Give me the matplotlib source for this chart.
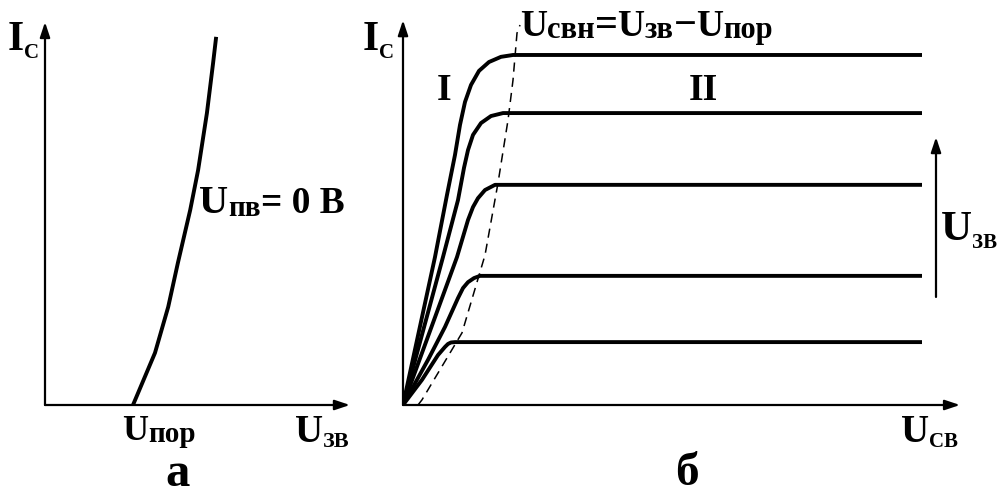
import matplotlib
matplotlib.use("Agg")
import matplotlib.pyplot as plt

# ---- data (schematic units: x in V, y in mA) ----
# panel a: transfer characteristic Ic(Uзв)
ugs_a = [2.0, 2.5, 2.8, 3.02, 3.30, 3.48, 3.68, 3.82, 3.89]
ic_a = [0.0, 1.41, 2.65, 3.84, 5.27, 6.35, 7.89, 9.24, 9.95]

# panel б: output characteristics Ic(Uсв) for five gate voltages
uds_1 = [0, 0.64, 0.88, 1.04, 1.14, 1.24, 1.36, 1.52, 1.72, 1.96, 2.20, 10.38]
ic_1 = [0, 4.0, 5.68, 6.76, 7.57, 8.19, 8.65, 9.03, 9.27, 9.41, 9.46, 9.46]
uds_2 = [0, 0.80, 1.10, 1.22, 1.30, 1.40, 1.56, 1.76, 2.00, 10.38]
ic_2 = [0, 4.0, 5.54, 6.41, 6.89, 7.30, 7.62, 7.81, 7.89, 7.89]
uds_3 = [0, 1.08, 1.30, 1.40, 1.50, 1.64, 1.84, 10.38]
ic_3 = [0, 4.0, 5.0, 5.35, 5.59, 5.81, 5.95, 5.95]
uds_4 = [0, 0.50, 0.84, 1.10, 1.20, 1.30, 1.42, 1.54, 10.38]
ic_4 = [0, 1.22, 2.11, 2.89, 3.16, 3.32, 3.43, 3.49, 3.49]
uds_5 = [0, 0.38, 0.70, 0.84, 0.90, 0.96, 1.04, 10.38]
ic_5 = [0, 0.68, 1.35, 1.57, 1.65, 1.69, 1.70, 1.70]
curves_b = [(uds_1, ic_1), (uds_2, ic_2), (uds_3, ic_3), (uds_4, ic_4), (uds_5, ic_5)]

# saturation boundary Uсвн = Uзв - Uпор
uds_sat = [0.30, 0.38, 1.18, 1.64, 1.90, 2.10, 2.20, 2.28, 2.34]
ic_sat = [0, 0.14, 1.95, 4.05, 6.0, 7.70, 8.78, 10.05, 10.27]

W, H = 1007, 497
FONT = "Liberation Serif"

fig = plt.figure(figsize=(W / 100, H / 100), dpi=100)
fig.patch.set_facecolor("white")

# axes placed so the origins land where the reference has them
ax_a = fig.add_axes([45 / W, (H - 405) / H, 330 / W, 400 / H])
ax_a.set_xlim(0, 330 / 44)
ax_a.set_ylim(0, 400 / 37)
ax_b = fig.add_axes([403 / W, (H - 405) / H, 600 / W, 400 / H])
ax_b.set_xlim(0, 600 / 50)
ax_b.set_ylim(0, 400 / 37)
for ax in (ax_a, ax_b):
    ax.axis("off")


def axis_arrow(ax, x0, y0, x1, y1):
    ax.annotate("", xy=(x1, y1), xytext=(x0, y0), annotation_clip=False,
                arrowprops=dict(arrowstyle="-|>,head_length=0.9,head_width=0.3",
                                lw=1.6, color="black", shrinkA=0, shrinkB=0))


# panel a
axis_arrow(ax_a, 0, 0, 6.93, 0)
axis_arrow(ax_a, 0, 0, 0, 10.35)
ax_a.plot(ugs_a, ic_a, color="black", lw=2.8, solid_joinstyle="round", solid_capstyle="butt")

# panel б
axis_arrow(ax_b, 0, 0, 11.14, 0)
axis_arrow(ax_b, 0, 0, 0, 10.4)
for u, i in curves_b:
    ax_b.plot(u, i, color="black", lw=2.8, solid_joinstyle="round", solid_capstyle="butt")
ax_b.plot(uds_sat, ic_sat, color="black", lw=1.1, linestyle=(0, (6, 4)))
axis_arrow(ax_b, 10.66, 2.92, 10.66, 7.24)

# ---- labels: pieces laid out left to right, positions in pixels from top-left ----
renderer = fig.canvas.get_renderer()


def label(x, y, parts):
    for s, size, dy in parts:
        t = fig.text(x / W, 1 - (y + dy) / H, s, fontsize=size, fontfamily=FONT,
                     fontweight="bold", ha="left", va="baseline")
        bb = t.get_window_extent(renderer)
        x = bb.x1


label(8, 50, [("I", 30, 0), ("С", 15, 8)])
label(199, 213, [("U", 29, 0), ("пв", 21, 3), ("= 0 В", 27, 0)])
label(122, 440, [("U", 26, 0), ("пор", 21, 2)])
label(295, 442, [("U", 28, 0), ("ЗВ", 16, 5)])
fig.text(178 / W, 1 - 486 / H, "а", fontsize=35, fontfamily=FONT, fontweight="bold",
         ha="center", va="baseline")

label(363, 50, [("I", 30, 0), ("С", 15, 8)])
label(520, 36, [("U", 27, 0), ("свн", 22, 2), ("=", 29, 0), ("U", 27, 0), ("зв", 22, 2),
                ("−", 29, 0), ("U", 27, 0), ("пор", 22, 2)])
label(437, 100, [("I", 27, 0)])
label(689, 100, [("II", 27, 0)])
label(941, 240, [("U", 31, 0), ("ЗВ", 15, 8)])
label(901, 442, [("U", 28, 0), ("СВ", 15, 5)])
fig.text(687 / W, 1 - 485 / H, "б", fontsize=34, fontfamily=FONT, fontweight="bold",
         ha="center", va="baseline")

fig.savefig("out.png", dpi=100)
